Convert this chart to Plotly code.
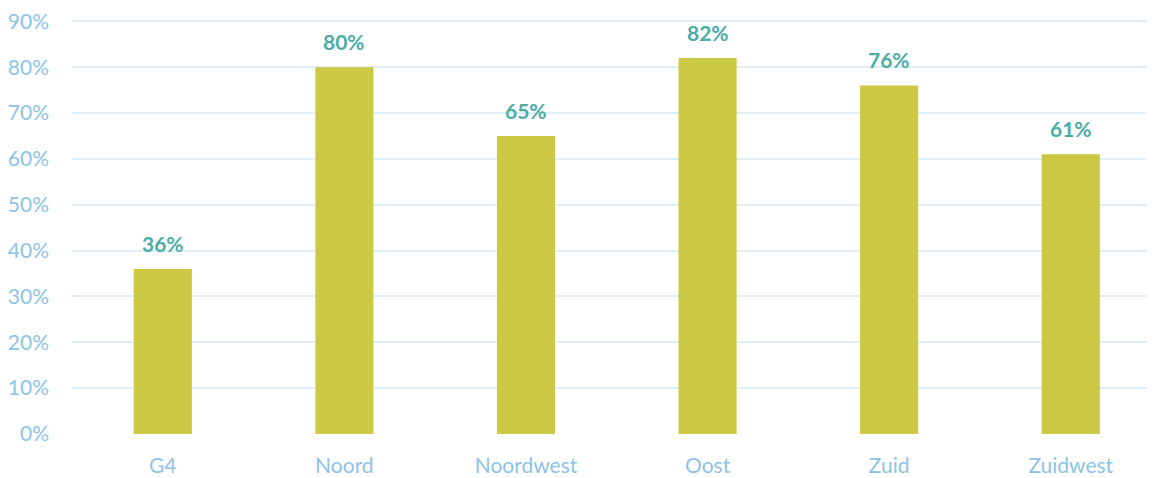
import plotly.graph_objects as go

categories = ["G4", "Noord", "Noordwest", "Oost", "Zuid", "Zuidwest"]
values = [36, 80, 65, 82, 76, 61]
labels = ["36%", "80%", "65%", "82%", "76%", "61%"]
tick_vals = [0, 10, 20, 30, 40, 50, 60, 70, 80, 90]
tick_text = ["0%", "10%", "20%", "30%", "40%", "50%", "60%", "70%", "80%", "90%"]

fig = go.Figure(go.Bar(
    x=categories, y=values, width=0.32,
    marker=dict(color="#CBC843", line=dict(width=0)),
    hoverinfo="skip",
))

for c, v, t in zip(categories, values, labels):
    fig.add_annotation(x=c, y=v, text=t, showarrow=False, yanchor="bottom",
                       yshift=11,
                       font=dict(family="Lato", size=21, color="#4BADA6", weight="bold"))

fig.update_layout(
    width=1147, height=470,
    margin=dict(l=64, r=0, t=9, b=44),
    paper_bgcolor="white", plot_bgcolor="white",
    showlegend=False,
    font=dict(family="Lato", color="#8DC3E6", size=21),
    xaxis=dict(range=[-0.5, 5.464], showgrid=False, showline=False, ticks="",
               tickfont=dict(size=21, color="#8DC3E6"), ticklabelstandoff=17),
    yaxis=dict(range=[0, 90.5], tickvals=tick_vals, ticktext=tick_text,
               showgrid=True, gridcolor="#E1EDF8", gridwidth=2, zeroline=False,
               ticklabeloverflow="allow",
               tickfont=dict(size=21, color="#8DC3E6"), ticklabelstandoff=22),
)

fig.write_html("out.html")
